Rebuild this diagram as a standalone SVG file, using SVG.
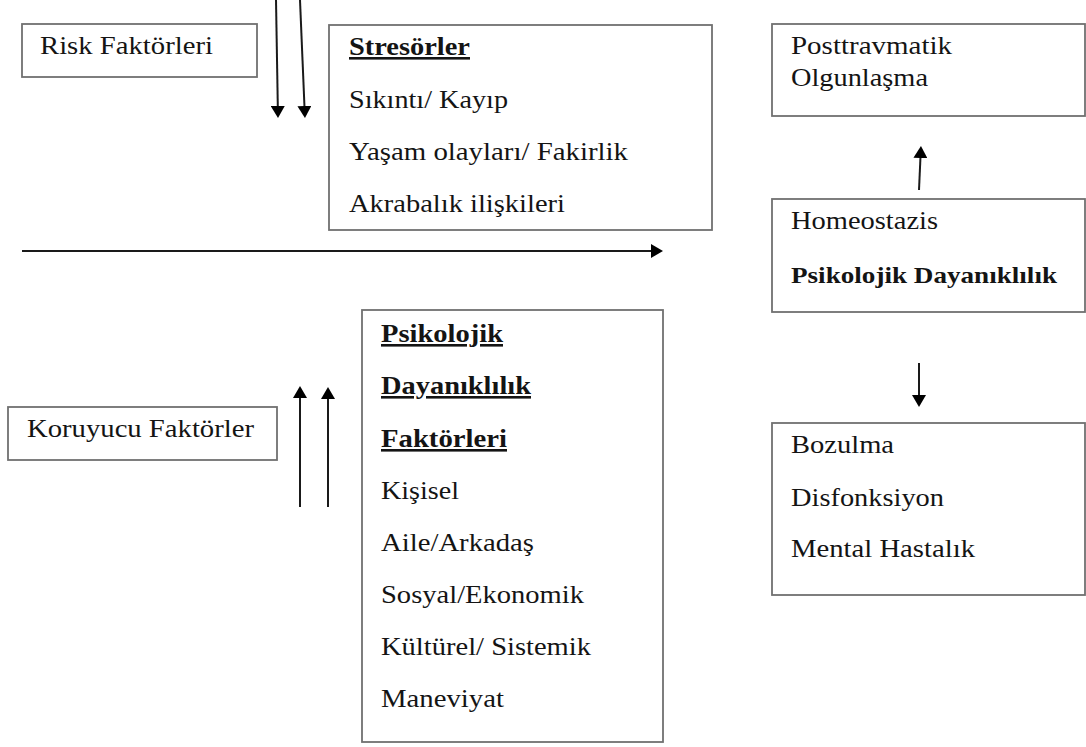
<svg xmlns="http://www.w3.org/2000/svg" width="1086" height="747" viewBox="0 0 1086 747">
<style>
.box{fill:#fff;stroke:#707070;stroke-width:1.8}
.t{font-family:"Liberation Serif","Times New Roman",serif;font-size:26px;fill:#141414}
.b{font-weight:bold}
.u{text-decoration:underline}
.c{stroke:#1a1a1a;stroke-width:2;fill:none}
</style>
<defs>
<marker id="ah" markerUnits="userSpaceOnUse" markerWidth="13" markerHeight="14" refX="6" refY="7" orient="auto">
<path d="M0,0 L12,7 L0,14 Z" fill="#000"/>
</marker>
</defs>
<rect width="1086" height="747" fill="#fff"/>
<g id="connectors">
<line class="c" x1="276" y1="0" x2="277.9" y2="112" marker-end="url(#ah)"/>
<line class="c" x1="300" y1="0" x2="304.7" y2="112" marker-end="url(#ah)"/>
<line class="c" x1="22" y1="251" x2="657" y2="251" marker-end="url(#ah)"/>
<line class="c" x1="300" y1="507" x2="300" y2="392" marker-end="url(#ah)"/>
<line class="c" x1="328" y1="507" x2="328" y2="393" marker-end="url(#ah)"/>
<line class="c" x1="919" y1="190" x2="920.7" y2="152" marker-end="url(#ah)"/>
<line class="c" x1="919" y1="363" x2="919" y2="401" marker-end="url(#ah)"/>
</g>
<g id="risk">
<rect class="box" x="22" y="24" width="235" height="53"/>
<text class="t" x="40" y="54" textLength="173" lengthAdjust="spacingAndGlyphs">Risk Faktörleri</text>
</g>
<g id="stresorler">
<rect class="box" x="329" y="25" width="383" height="205"/>
<text class="t b u" x="349" y="55" textLength="121" lengthAdjust="spacingAndGlyphs">Stresörler</text>
<text class="t" x="349" y="108" textLength="159" lengthAdjust="spacingAndGlyphs">Sıkıntı/ Kayıp</text>
<text class="t" x="349" y="160" textLength="279" lengthAdjust="spacingAndGlyphs">Yaşam olayları/ Fakirlik</text>
<text class="t" x="349" y="212" textLength="216" lengthAdjust="spacingAndGlyphs">Akrabalık ilişkileri</text>
</g>
<g id="posttravmatik">
<rect class="box" x="772" y="24" width="313" height="92"/>
<text class="t" x="791" y="54" textLength="161" lengthAdjust="spacingAndGlyphs">Posttravmatik</text>
<text class="t" x="791" y="86" textLength="137" lengthAdjust="spacingAndGlyphs">Olgunlaşma</text>
</g>
<g id="homeostazis">
<rect class="box" x="772" y="199" width="313" height="113"/>
<text class="t" x="791" y="229" textLength="147" lengthAdjust="spacingAndGlyphs">Homeostazis</text>
<text class="t b" x="791" y="283" style="font-size:24px" textLength="266" lengthAdjust="spacingAndGlyphs">Psikolojik Dayanıklılık</text>
</g>
<g id="koruyucu">
<rect class="box" x="8" y="407" width="269" height="53"/>
<text class="t" x="27" y="437" textLength="227" lengthAdjust="spacingAndGlyphs">Koruyucu Faktörler</text>
</g>
<g id="psikolojik">
<rect class="box" x="362" y="310" width="301" height="432"/>
<text class="t b u" x="381" y="342" textLength="122" lengthAdjust="spacingAndGlyphs">Psikolojik</text>
<text class="t b u" x="381" y="394" textLength="150" lengthAdjust="spacingAndGlyphs">Dayanıklılık</text>
<text class="t b u" x="381" y="447" textLength="126" lengthAdjust="spacingAndGlyphs">Faktörleri</text>
<text class="t" x="381" y="499" textLength="78" lengthAdjust="spacingAndGlyphs">Kişisel</text>
<text class="t" x="381" y="551" textLength="153" lengthAdjust="spacingAndGlyphs">Aile/Arkadaş</text>
<text class="t" x="381" y="603" textLength="203" lengthAdjust="spacingAndGlyphs">Sosyal/Ekonomik</text>
<text class="t" x="381" y="655" textLength="210" lengthAdjust="spacingAndGlyphs">Kültürel/ Sistemik</text>
<text class="t" x="381" y="707" textLength="123" lengthAdjust="spacingAndGlyphs">Maneviyat</text>
</g>
<g id="bozulma">
<rect class="box" x="772" y="423" width="313" height="172"/>
<text class="t" x="791" y="453" textLength="103" lengthAdjust="spacingAndGlyphs">Bozulma</text>
<text class="t" x="791" y="506" textLength="153" lengthAdjust="spacingAndGlyphs">Disfonksiyon</text>
<text class="t" x="791" y="557" textLength="184" lengthAdjust="spacingAndGlyphs">Mental Hastalık</text>
</g>
</svg>
